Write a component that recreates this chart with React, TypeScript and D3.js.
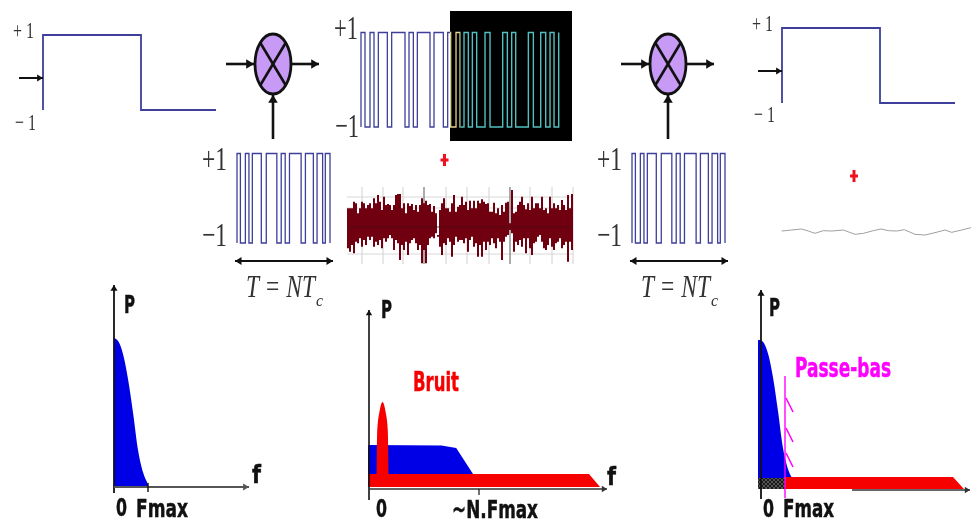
import React from "react";
import * as d3 from "d3";

// ---------- data ----------
const pnTransitions = [0, 3.4, 8.4, 12, 15.4, 24.4, 29.4, 40, 44.4, 48.4, 52.7, 64.4, 68.7, 76.7, 80.4, 86, 88.7, 93.4];
const productTransitions = [93, 105, 120, 132, 145, 172, 185, 225, 237, 250, 262, 300, 312, 340, 353, 362, 378, 390, 402, 415, 427, 440, 465, 480, 518, 532, 545, 557, 595, 610, 632, 647, 660, 672, 686];
const dataTimes = [0, 98, 98, 173];
const dataLevels = [1, 1, -1, -1];

const noiseUpper = [85, 85, 85, 65, 70, 100, 85, 65, 70, 85, 75, 70, 85, 55, 70, 45, 65, 90, 50, 75, 72, 75, 90, 75, 45, 42, 42, 85, 70, 100, 70, 78, 72, 90, 75, 95, 75, 55, 70, 62, 75, 72, 95, 78, 100, 165, 90, 70, 55, 85, 85, 95, 70, 45, 95, 80, 75,
  50, 75, 65, 90, 62, 85, 62, 85, 62, 70, 58, 65, 72, 70, 95, 95, 68, 100, 85, 105, 75, 95, 68, 65, 130, 30, 100, 95, 75, 65, 50, 75, 88, 70, 90, 50, 85, 70, 70, 85, 50, 90, 85, 100, 50, 85, 70, 85, 75, 90, 60, 75, 90, 45, 85, 42, 80];
const noiseLower = [205, 215, 195, 220, 185, 190, 175, 200, 180, 195, 170, 180, 170, 200, 185, 195, 180, 205, 175, 185, 175, 165, 175, 210, 180, 190, 240, 195, 210, 185, 225, 190, 180, 175, 190, 210, 195, 250, 210, 250, 195, 175, 170, 175, 160, 170, 200, 225, 190, 195, 175, 185, 230, 195, 170, 185, 180,
  180, 190, 175, 215, 180, 170, 200, 190, 230, 195, 230, 185, 210, 185, 195, 175, 190, 205, 175, 185, 240, 185, 170, 165, 150, 160, 215, 185, 195, 180, 200, 175, 220, 175, 205, 225, 190, 185, 170, 165, 185, 205, 210, 195, 175, 200, 210, 190, 185, 175, 205, 195, 185, 245, 185, 210, 180];
const gridV = [362, 383, 403, 446, 467, 489, 530, 552, 573];
const gridVDark = [424, 510];
const gridH = [197, 208, 254];
const residual: [number, number][] = [[20, 48], [50, 45], [80, 42], [100, 48], [120, 55], [145, 47], [170, 48], [205, 45], [240, 58], [265, 55], [295, 47], [318, 42], [340, 47], [365, 48], [388, 44], [420, 58], [450, 60], [480, 53], [510, 45], [530, 52], [560, 45], [588, 38]];

const psdF = [0, 0.126, 0.27, 0.417, 0.563, 0.709, 0.854, 1];
const psdP = [1, 0.977, 0.885, 0.713, 0.483, 0.23, 0.08, 0];
const spreadF = [0, 0.7, 0.84, 1];
const spreadP = [1, 0.98, 0.9, 0];
const peakF = [-0.04, -0.035, -0.02, 0, 0.02, 0.035, 0.04];
const peakP = [0, 0.62, 0.87, 1, 0.87, 0.62, 0];
const filterTicks = [0, 1.09, 2];

// ---------- shared helpers ----------
const INK = "#111";
const NAVY = "#3d3f9b";
const SERIF = "'Liberation Serif', serif";
const COND = "'DejaVu Sans', sans-serif";

const stepPts = (ts: number[]) => {
  const pts: [number, number][] = [[ts[0], -1]];
  let lvl = -1;
  ts.forEach((t) => {
    pts.push([t, lvl]);
    lvl = -lvl;
    pts.push([t, lvl]);
  });
  return pts;
};

const Arrow = ({ x1, y1, x2, y2, w = 2.6, c = INK, head = 6, both = false }: any) => {
  const a = Math.atan2(y2 - y1, x2 - x1);
  const tri = (x: number, y: number, ang: number) => {
    const l = head * 1.3;
    const p = [[x, y], [x - l * Math.cos(ang) + head * Math.sin(ang) * 0.8, y - l * Math.sin(ang) - head * Math.cos(ang) * 0.8], [x - l * Math.cos(ang) - head * Math.sin(ang) * 0.8, y - l * Math.sin(ang) + head * Math.cos(ang) * 0.8]];
    return <polygon points={p.map((q) => q.join(",")).join(" ")} fill={c} />;
  };
  return (
    <g>
      <line x1={x1} y1={y1} x2={x2} y2={y2} stroke={c} strokeWidth={w} />
      {tri(x2, y2, a)}
      {both && tri(x1, y1, a + Math.PI)}
    </g>
  );
};

const Lab = ({ x, y, w, size = 25, fill = "#111", children }: any) => (
  <text x={x} y={y} fontFamily={COND} fontWeight="bold" fontSize={size} fill={fill} stroke={fill} strokeWidth={0.5} textLength={w} lengthAdjust="spacingAndGlyphs">
    {children}
  </text>
);

const Serif = ({ x, y, size, w, children }: any) => (
  <text x={x} y={y} fontFamily={SERIF} fontSize={size} fill="#333" textLength={w} lengthAdjust="spacingAndGlyphs">
    {children}
  </text>
);

const Mixer = ({ cx, cy }: { cx: number; cy: number }) => {
  const rx = 18, ry = 30, k = Math.SQRT1_2;
  return (
    <g>
      <Arrow x1={cx - 47} y1={cy} x2={cx - 19} y2={cy} />
      <Arrow x1={cx + 19} y1={cy} x2={cx + 46} y2={cy} />
      <Arrow x1={cx} y1={cy + 75} x2={cx} y2={cy + 31} />
      <ellipse cx={cx} cy={cy} rx={rx} ry={ry} fill="#c79bf5" stroke={INK} strokeWidth={2.8} />
      <line x1={cx - rx * k} y1={cy - ry * k} x2={cx + rx * k} y2={cy + ry * k} stroke={INK} strokeWidth={2.6} />
      <line x1={cx + rx * k} y1={cy - ry * k} x2={cx - rx * k} y2={cy + ry * k} stroke={INK} strokeWidth={2.6} />
    </g>
  );
};

const DataSignal = ({ x0, top, bot }: { x0: number; top: number; bot: number }) => {
  const xs = d3.scaleLinear().domain([0, 173]).range([x0, x0 + 173]);
  const ys = d3.scaleLinear().domain([-1, 1]).range([bot, top]);
  const pts: [number, number][] = [[0, -1], ...dataTimes.map((t, i) => [t, dataLevels[i]] as [number, number])];
  const d = d3.line<[number, number]>().x((p) => xs(p[0])).y((p) => ys(p[1]))(pts)!;
  return <path d={d} fill="none" stroke={NAVY} strokeWidth={1.8} />;
};

const PnCode = ({ x0 }: { x0: number }) => {
  const xs = d3.scaleLinear().domain([0, 93.4]).range([x0, x0 + 93]);
  const ys = d3.scaleLinear().domain([-1, 1]).range([243, 153.5]);
  const d = d3.line<[number, number]>().x((p) => xs(p[0])).y((p) => ys(p[1]))(stepPts(pnTransitions))!;
  return (
    <g>
      <path d={d} fill="none" stroke={NAVY} strokeWidth={1.3} />
      <Serif x={x0 - 35} y={170} size={34} w={25}>+1</Serif>
      <Serif x={x0 - 35} y={246} size={34} w={25}>−1</Serif>
      <Arrow x1={x0 - 2} y1={261} x2={x0 + 96} y2={261} w={2.2} head={5} both />
      <text x={x0 + 9} y={297} fontFamily={SERIF} fontStyle="italic" fontSize={31} fill="#333" textLength={69} lengthAdjust="spacingAndGlyphs">T = NT</text>
      <text x={x0 + 79} y={306} fontFamily={SERIF} fontStyle="italic" fontSize={16} fill="#333">c</text>
    </g>
  );
};

const RedPlus = ({ cx, cy }: { cx: number; cy: number }) => (
  <g stroke="#f01020" strokeWidth={3}>
    <line x1={cx - 4} y1={cy} x2={cx + 4} y2={cy} />
    <line x1={cx} y1={cy - 6} x2={cx} y2={cy + 6} />
  </g>
);

// ---------- App ----------
export default function App() {
  // product signal
  const px = d3.scaleLinear().domain([93, 686]).range([361, 558.7]);
  const py = d3.scaleLinear().domain([-1, 1]).range([127, 32.5]);
  const productPath = d3.line<[number, number]>().x((p) => px(p[0])).y((p) => py(p[1]))(stepPts(productTransitions))!;

  // noise
  const nx = d3.scaleLinear().domain([0, noiseUpper.length - 1]).range([347, 573]);
  const ny = d3.scaleLinear().domain([0, 270]).range([180, 270]);
  const noisePath = d3.area<number>().x((_, i) => nx(i)).y0((_, i) => ny(noiseLower[i])).y1((v) => ny(v)).curve(d3.curveStepAfter)(noiseUpper)!;

  // residual
  const rx = d3.scaleLinear().domain([0, 588]).range([775, 971]);
  const ry = d3.scaleLinear().domain([0, 105]).range([215, 250]);
  const residualPath = d3.line<[number, number]>().x((p) => rx(p[0])).y((p) => ry(p[1])).curve(d3.curveLinear)(residual)!;

  // panel 1 spectrum
  const f1 = d3.scaleLinear().domain([0, 1]).range([114, 148]);
  const p1 = d3.scaleLinear().domain([0, 1]).range([484, 338]);
  const psd1 = d3.area<number>().x((f) => f1(f)).y0(487).y1((_, i) => p1(psdP[i])).curve(d3.curveMonotoneX)(psdF)!;

  // panel 2 spectrum
  const f2 = d3.scaleLinear().domain([0, 1]).range([368, 473]);
  const p2 = d3.scaleLinear().domain([0, 1]).range([474, 445]);
  const spread = d3.area<number>().x((f) => f2(f)).y0(476).y1((_, i) => p2(spreadP[i]))(spreadF)!;
  const fFloor = d3.scaleLinear().domain([0, 1]).range([368, 589]);
  const floor2 = d3.area<number>().x((f) => fFloor(f)).y0(487).y1((f) => (f > 1 ? 487 : 474))([0, 1, 1.05])!;
  const peakX = d3.scaleLinear().domain([-0.04, 0.04]).range([376.5, 388.5]);
  const peakY = d3.scaleLinear().domain([0, 1]).range([476, 402]);
  const peak = d3.area<number>().x((f) => peakX(f)).y0(480).y1((_, i) => peakY(peakP[i])).curve(d3.curveMonotoneX)(peakF)!;

  // panel 3 spectrum
  const f3 = d3.scaleLinear().domain([0, 1]).range([760, 792]);
  const p3 = d3.scaleLinear().domain([0, 1]).range([478, 340]);
  const psd3 = d3.area<number>().x((f) => f3(f)).y0(489).y1((_, i) => p3(psdP[i])).curve(d3.curveMonotoneX)(psdF)!;
  const fFloor3 = d3.scaleLinear().domain([0, 1]).range([785, 953]);
  const floor3 = d3.area<number>().x((f) => fFloor3(f)).y0(489).y1((f) => (f > 1 ? 489 : 477))([0, 1, 1.065])!;
  const tickY = d3.scaleLinear().domain([0, 2]).range([398, 453]);

  return (
    <svg width={971} height={519} viewBox="0 0 971 519" style={{ position: "absolute", left: 0, top: 0, background: "#fff", filter: "blur(0.5px)" }}>
      <defs>
        <clipPath id="blue"><rect x={340} y={0} width={110} height={160} /></clipPath>
        <clipPath id="yellow"><rect x={450} y={0} width={10.5} height={160} /></clipPath>
        <clipPath id="teal"><rect x={460.5} y={0} width={120} height={160} /></clipPath>
        <pattern id="hatch" width={4} height={4} patternUnits="userSpaceOnUse">
          <rect width={4} height={4} fill="#555" />
          <path d="M0 0L4 4M4 0L0 4" stroke="#111" strokeWidth={0.9} />
        </pattern>
      </defs>

      {/* left data */}
      <DataSignal x0={43} top={35} bot={110} />
      <Serif x={13} y={38} size={24} w={21}>+ 1</Serif>
      <Serif x={15} y={130} size={24} w={21}>− 1</Serif>
      <Arrow x1={19} y1={78} x2={43} y2={78} w={2} head={4.5} />

      {/* mixers */}
      <Mixer cx={273} cy={64} />
      <Mixer cx={668} cy={64} />

      {/* PN codes */}
      <PnCode x0={237} />
      <PnCode x0={632} />

      {/* product signal */}
      <rect x={450} y={11} width={122} height={130} fill="#000" />
      <path d={productPath} fill="none" stroke={NAVY} strokeWidth={1.3} clipPath="url(#blue)" />
      <path d={productPath} fill="none" stroke="#e6d48a" strokeWidth={1.3} clipPath="url(#yellow)" />
      <path d={productPath} fill="none" stroke="#52c0c0" strokeWidth={1.4} clipPath="url(#teal)" />
      <Serif x={334} y={39} size={34} w={24}>+1</Serif>
      <Serif x={335} y={137} size={34} w={24}>−1</Serif>

      <RedPlus cx={444.5} cy={160} />
      <RedPlus cx={854} cy={176} />

      {/* noise */}
      <g>
        {gridH.map((y) => <line key={y} x1={347} x2={573} y1={y} y2={y} stroke="#d8d8d8" />)}
        {gridV.map((x) => <line key={x} x1={x} x2={x} y1={187} y2={264} stroke="#d0d0d0" />)}
        {gridVDark.map((x) => <line key={x} x1={x} x2={x} y1={187} y2={264} stroke="#888" strokeWidth={1.4} />)}
        <path d={noisePath} fill="#70000f" />
        <line x1={347} x2={573} y1={227} y2={227} stroke="#4a0a10" strokeWidth={0.8} />
      </g>

      {/* right data */}
      <DataSignal x0={782} top={28} bot={103} />
      <Serif x={752} y={31} size={24} w={21}>+ 1</Serif>
      <Serif x={754} y={122} size={24} w={21}>− 1</Serif>
      <Arrow x1={758} y1={71} x2={782} y2={71} w={2} head={4.5} />
      <path d={residualPath} fill="none" stroke="#a0a0a0" strokeWidth={1} />

      {/* spectrum 1 */}
      <path d={psd1} fill="#0000e6" />
      <Arrow x1={114} y1={493} x2={114} y2={285} w={1.8} head={4.5} />
      <Arrow x1={114} y1={487} x2={249} y2={487} w={2} c="#555" head={4.5} />
      <line x1={f1(1)} x2={f1(1)} y1={483} y2={492} stroke={INK} strokeWidth={1.4} />
      <Lab x={124} y={313} w={11}>P</Lab>
      <Lab x={252} y={483} w={9}>f</Lab>
      <Lab x={116} y={516} w={11}>0</Lab>
      <Lab x={136} y={517} w={52}>Fmax</Lab>

      {/* spectrum 2 */}
      <path d={spread} fill="#0000e6" />
      <path d={floor2} fill="#f60000" />
      <path d={peak} fill="#f60000" />
      <Arrow x1={369} y1={500} x2={369} y2={310} w={1.6} head={4} />
      <Arrow x1={369} y1={489} x2={607} y2={489} w={1.4} c="#333" head={4} />
      <line x1={479} x2={479} y1={489} y2={495} stroke={INK} strokeWidth={1.2} />
      <Lab x={381} y={318} w={11}>P</Lab>
      <Lab x={413} y={391} size={27} w={46} fill="#f60000">Bruit</Lab>
      <Lab x={607} y={485} w={9}>f</Lab>
      <Lab x={376} y={517} w={11}>0</Lab>
      <Lab x={452} y={518} w={86}>~N.Fmax</Lab>

      {/* spectrum 3 */}
      <path d={psd3} fill="#0000e6" />
      <rect x={758} y={340} width={2.5} height={138} fill="#0000e6" />
      <path d={floor3} fill="#f60000" />
      <rect x={758} y={478} width={27} height={11} fill="url(#hatch)" />
      <Arrow x1={761} y1={499} x2={761} y2={290} w={1.8} head={4.5} />
      <Arrow x1={852} y1={490} x2={970} y2={490} w={1.4} c="#333" head={4} />
      <line x1={785} x2={785} y1={376} y2={498} stroke="#ff00ff" strokeWidth={1.4} />
      {filterTicks.map((i) => (
        <line key={i} x1={786} x2={793} y1={tickY(i)} y2={tickY(i) + 14} stroke="#ff00ff" strokeWidth={1.5} />
      ))}
      <Lab x={769} y={316} w={11}>P</Lab>
      <Lab x={795} y={377} size={26} w={96} fill="#ff00ff">Passe-bas</Lab>
      <Lab x={763} y={517} w={11}>0</Lab>
      <Lab x={783} y={517} w={51}>Fmax</Lab>
    </svg>
  );
}
